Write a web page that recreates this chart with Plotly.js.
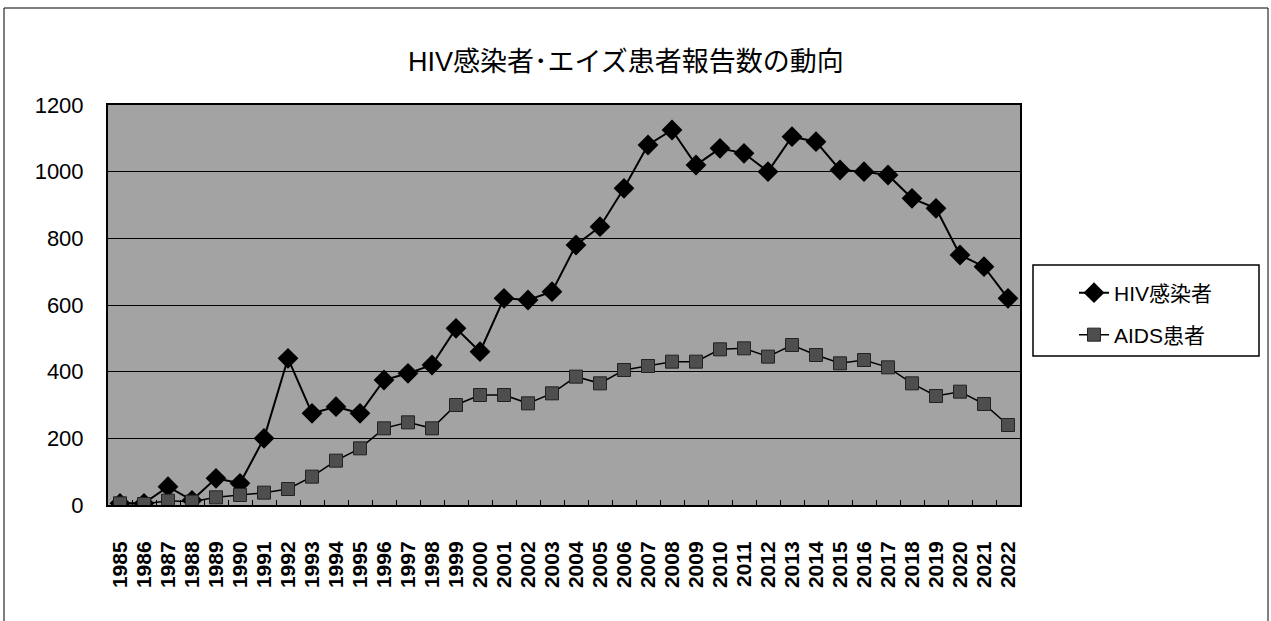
<!DOCTYPE html>
<html>
<head>
<meta charset="utf-8">
<script src="https://cdn.plot.ly/plotly-3.0.1.min.js"></script>
<style>
html,body{margin:0;padding:0;background:#fff;}
#chart{width:1271px;height:621px;}
</style>
</head>
<body>
<div id="chart"></div>
<script>
const years = ["1985","1986","1987","1988","1989","1990","1991","1992","1993","1994","1995","1996","1997","1998","1999","2000","2001","2002","2003","2004","2005","2006","2007","2008","2009","2010","2011","2012","2013","2014","2015","2016","2017","2018","2019","2020","2021","2022"];
const hiv = [5,5,55,14,80,65,200,440,275,295,275,375,395,420,530,460,620,615,640,780,835,950,1080,1125,1020,1070,1055,1000,1105,1090,1005,1000,990,920,890,750,715,620];
const aids = [5,3,13,10,23,30,37,48,85,133,170,230,248,230,300,330,330,305,335,385,365,405,417,430,430,467,470,445,480,450,425,435,413,365,327,340,303,240];
const seriesNames = ["HIV感染者","AIDS患者"];
const titleText = "HIV感染者･エイズ患者報告数の動向";
const yTicks = [0,200,400,600,800,1000,1200];

const W = 1271, H = 621;
const M = {l:108, r:251, t:105, b:116};
const pw = W - M.l - M.r, ph = H - M.t - M.b;
const px2x = p => (p - M.l) / pw;
const px2y = p => (H - M.b - p) / ph;

const FONT = "Liberation Sans, Arial, Noto Sans CJK JP, sans-serif";
const JFONT = "Liberation Sans, Noto Sans CJK JP, sans-serif";

const traces = [
  {
    x: years, y: hiv, name: seriesNames[0], type: "scatter", mode: "lines+markers",
    legend: "legend",
    line: {color: "#000", width: 2},
    marker: {symbol: "diamond", size: 16, color: "#000", line: {color: "#000", width: 0}}
  },
  {
    x: years, y: aids, name: seriesNames[1], type: "scatter", mode: "lines+markers",
    legend: "legend2",
    line: {color: "#000", width: 1.5},
    marker: {symbol: "square", size: 13, color: "#4e4e4e", line: {color: "#222", width: 1}}
  }
];

const legendCommon = {
  xanchor: "left", yanchor: "middle",
  bgcolor: "rgba(0,0,0,0)", borderwidth: 0,
  font: {size: 21, family: JFONT, color: "#000"},
  itemwidth: 30
};

const layout = {
  width: W, height: H,
  margin: M,
  paper_bgcolor: "#fff",
  plot_bgcolor: "#a3a3a3",
  font: {family: FONT, color: "#000"},
  title: {text: titleText, font: {size: 27, family: JFONT, color: "#000"}, xref: "container", x: 0.4925, yref: "container", y: 1 - 62/H, yanchor: "middle"},
  xaxis: {
    type: "category",
    range: [-0.5, years.length - 0.5],
    tickmode: "array", tickvals: years, ticktext: years,
    tickangle: -90,
    tickfont: {size: 21, family: FONT, color: "#000", weight: "bold"},
    ticks: "inside", ticklen: 5, tickcolor: "#000", tickwidth: 1,
    tickson: "boundaries",
    ticklabelstandoff: 26,
    showline: true, linecolor: "#000", linewidth: 2, mirror: true,
    showgrid: false, zeroline: false, fixedrange: true
  },
  yaxis: {
    range: [0, 1200],
    tickmode: "array", tickvals: yTicks,
    tickfont: {size: 22, family: FONT, color: "#000"},
    ticks: "", ticklabelstandoff: 18,
    showline: true, linecolor: "#000", linewidth: 2, mirror: true,
    showgrid: true, gridcolor: "#000", gridwidth: 1,
    zeroline: false, fixedrange: true
  },
  legend: Object.assign({x: px2x(1074), y: px2y(293)}, legendCommon),
  legend2: Object.assign({x: px2x(1074), y: px2y(335)}, legendCommon),
  showlegend: true,
  shapes: [
    {type: "rect", xref: "paper", yref: "paper",
     x0: px2x(4), x1: px2x(1268), y0: px2y(630), y1: px2y(8),
     line: {color: "#000", width: 1}, fillcolor: "rgba(0,0,0,0)", layer: "below"},
    {type: "rect", xref: "paper", yref: "paper",
     x0: px2x(1033), x1: px2x(1259), y0: px2y(356), y1: px2y(265),
     line: {color: "#000", width: 1.5}, fillcolor: "#fff", layer: "below"}
  ]
};

Plotly.newPlot("chart", traces, layout, {displayModeBar: false, staticPlot: true});
</script>
</body>
</html>
